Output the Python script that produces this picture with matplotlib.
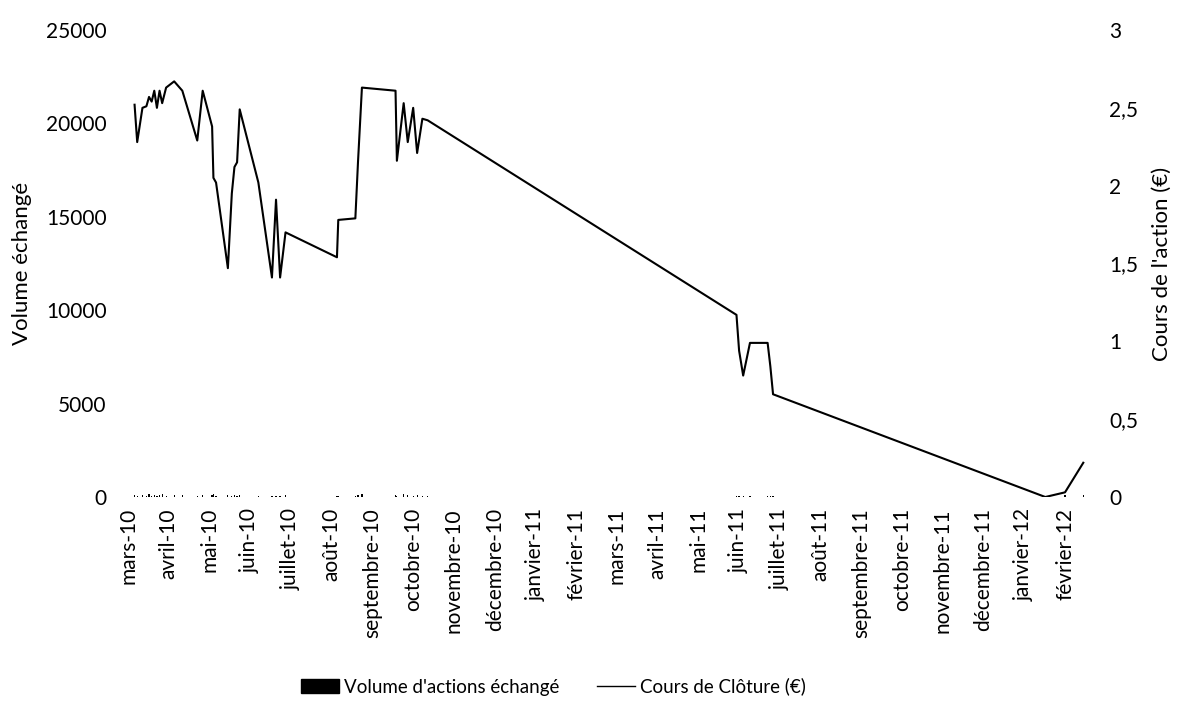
import matplotlib
matplotlib.use("Agg")
import matplotlib.pyplot as plt
import numpy as np
import pandas as pd
from matplotlib.patches import Patch
from matplotlib.lines import Line2D

plt.rcParams["font.family"] = ["Lato", "DejaVu Sans"]

# closing price (EUR)
dates = [
    "2010-03-06", "2010-03-08", "2010-03-12", "2010-03-15", "2010-03-17",
    "2010-03-19", "2010-03-21", "2010-03-23", "2010-03-25", "2010-03-27",
    "2010-03-30", "2010-04-05", "2010-04-11", "2010-04-22", "2010-04-26",
    "2010-05-03", "2010-05-04", "2010-05-06", "2010-05-15", "2010-05-18",
    "2010-05-20", "2010-05-22", "2010-05-24", "2010-06-07", "2010-06-17",
    "2010-06-20", "2010-06-23", "2010-06-27", "2010-08-05", "2010-08-06",
    "2010-08-19", "2010-08-21", "2010-08-24", "2010-09-18", "2010-09-19",
    "2010-09-24", "2010-09-27", "2010-10-01", "2010-10-04", "2010-10-08",
    "2010-10-12", "2011-05-30", "2011-06-01", "2011-06-04", "2011-06-09",
    "2011-06-22", "2011-06-24", "2011-06-26", "2012-01-17", "2012-02-01",
    "2012-02-14",
]
close = [
    2.52, 2.28, 2.50, 2.51, 2.57,
    2.54, 2.61, 2.50, 2.61, 2.53,
    2.63, 2.67, 2.61, 2.29, 2.61,
    2.38, 2.05, 2.02, 1.47, 1.95,
    2.12, 2.15, 2.49, 2.02, 1.41,
    1.91, 1.41, 1.70, 1.54, 1.78,
    1.79, 2.15, 2.63, 2.61, 2.16,
    2.53, 2.28, 2.50, 2.21, 2.43,
    2.42, 1.17, 0.94, 0.78, 0.99,
    0.99, 0.84, 0.66, 0.00, 0.03,
    0.22,
]
# traded volume, almost flat on the 0-25000 scale
volume = [
    90, 60, 120, 80, 150,
    70, 110, 60, 90, 140,
    80, 100, 130, 70, 90,
    120, 150, 80, 110, 60,
    90, 70, 100, 60, 80,
    70, 60, 90, 50, 70,
    80, 120, 150, 90, 60,
    140, 110, 80, 90, 70,
    60, 40, 60, 50, 40,
    40, 50, 60, 70, 90,
    120,
]

month_labels = [
    "mars-10", "avril-10", "mai-10", "juin-10", "juillet-10", "août-10",
    "septembre-10", "octobre-10", "novembre-10", "décembre-10", "janvier-11",
    "février-11", "mars-11", "avril-11", "mai-11", "juin-11", "juillet-11",
    "août-11", "septembre-11", "octobre-11", "novembre-11", "décembre-11",
    "janvier-12", "février-12",
]


def month_index(date_strings):
    # months since mars-10, so every month gets the same width like the Excel axis
    d = pd.to_datetime(pd.Series(date_strings))
    return ((d.dt.year - 2010) * 12 + d.dt.month - 3
            + (d.dt.day - 1) / d.dt.days_in_month).to_numpy(dtype=float)


def main():
    x = month_index(dates)

    fig = plt.figure(figsize=(11.78, 7.04), dpi=100)
    ax = fig.add_axes([115 / 1178, 1 - 497 / 704, 975 / 1178, 467 / 704])
    ax2 = ax.twinx()

    ax.bar(x, volume, width=0.03, color="black")
    ax.set_ylim(0, 25000)
    ax.set_yticks(np.arange(0, 25001, 5000))
    ax.set_ylabel("Volume échangé", fontsize=16, labelpad=10)

    ax2.plot(x, close, color="black", linewidth=1.5)
    ax2.set_ylim(0, 3)
    ax2.set_yticks(np.arange(0, 3.01, 0.5))
    ax2.set_yticklabels(["0", "0,5", "1", "1,5", "2", "2,5", "3"])
    ax2.set_ylabel("Cours de l'action (€)", fontsize=16, labelpad=10)

    ax.set_xlim(-13 / 40.74, 962 / 40.74)
    ax.set_xticks(np.arange(len(month_labels)))
    ax.set_xticklabels(month_labels, rotation=90, fontsize=15)

    for a in (ax, ax2):
        for s in a.spines.values():
            s.set_visible(False)
        a.tick_params(axis="y", length=0, labelsize=15)
    ax.tick_params(axis="y", pad=6)
    ax2.tick_params(axis="y", pad=14)
    ax.tick_params(axis="x", length=0, pad=8)

    handles = [
        Patch(facecolor="black", edgecolor="black"),
        Line2D([0], [0], color="black", linewidth=1.0),
    ]
    fig.legend(
        handles,
        ["Volume d'actions échangé", "Cours de Clôture (€)"],
        loc="lower center",
        bbox_to_anchor=(0.47, -0.012),
        ncol=2,
        frameon=False,
        fontsize=13.5,
        handlelength=2.0,
        handletextpad=0.3,
        columnspacing=2.0,
    )

    fig.savefig("out.png", dpi=100)
    plt.close(fig)


if __name__ == "__main__":
    main()
